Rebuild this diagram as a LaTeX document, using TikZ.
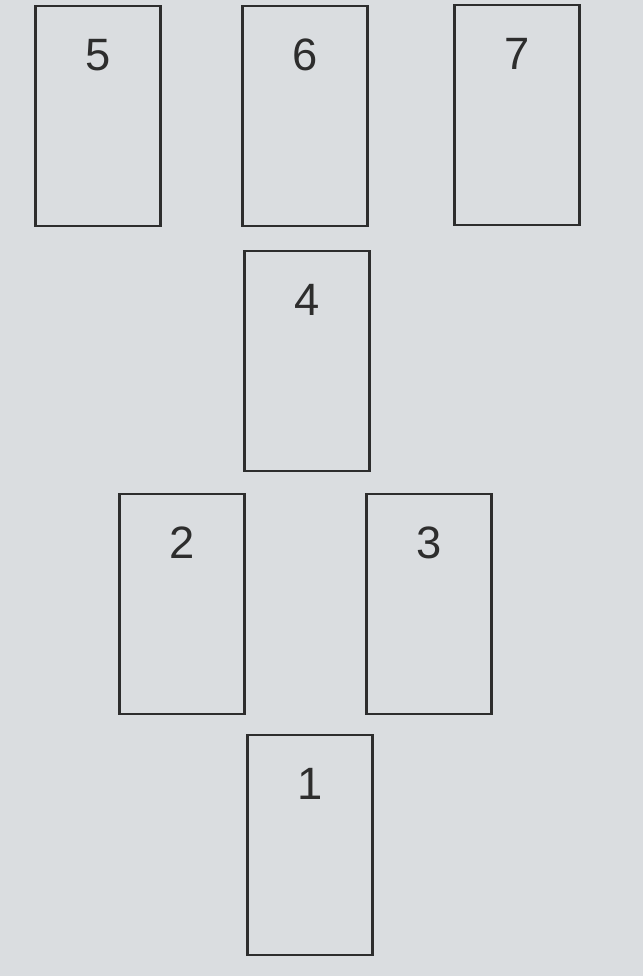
\documentclass[tikz,border=0pt]{standalone}
\usepackage{fontspec}
\setsansfont{Liberation Sans}
\usepackage{tikz}
\usetikzlibrary{calc}
\definecolor{paper}{RGB}{218,221,224}
\definecolor{ink}{RGB}{45,45,45}

\begin{document}
\begin{tikzpicture}[x=0.75pt, y=-0.75pt,
	card/.style={draw=ink, line width=1.7pt, minimum width=\cardWidth*0.75pt, minimum height=\cardHeight*0.75pt, inner sep=0pt},
	cardnumber/.style={anchor=north, inner sep=0pt, text=ink, font=\sffamily\fontsize{34}{36}\selectfont}]

	% page
	\fill [paper] (0,0) rectangle (643,976);
	\useasboundingbox (0,0) rectangle (643,976);

	% card size
	\def \cardWidth {125}
	\def \cardHeight {220}
	\def \numberDrop {34}

	% top row
	\node [card] (card5) at (98,116) {};
	\node [card] (card6) at (305,116) {};
	\node [card] (card7) at (517,115) {};

	% middle
	\node [card] (card4) at (307,361) {};

	% pair
	\node [card] (card2) at (182,604) {};
	\node [card] (card3) at (429,604) {};

	% bottom
	\node [card] (card1) at (310,845) {};

	% numbers
	\foreach \n in {1,...,7}
		\node [cardnumber] (num\n) at ($(card\n.north)+(0,\numberDrop)$) {\n};

\end{tikzpicture}
\end{document}
